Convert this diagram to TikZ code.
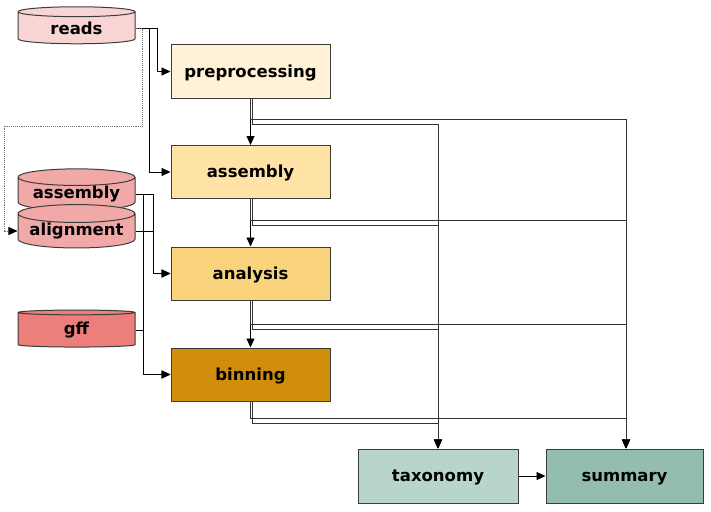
\documentclass[tikz,border=0pt]{standalone}
\usepackage{fontspec}
\setmainfont{DejaVu Sans}
\usetikzlibrary{shapes.geometric,arrows.meta}

\definecolor{readsfill}{HTML}{F8D4D4}
\definecolor{dbfill}{HTML}{F1A9A7}
\definecolor{gfffill}{HTML}{EC7F79}
\definecolor{prefill}{HTML}{FFF2D6}
\definecolor{asmfill}{HTML}{FFE3A6}
\definecolor{anafill}{HTML}{FAD47D}
\definecolor{binfill}{HTML}{D18E0A}
\definecolor{taxfill}{HTML}{B7D5CB}
\definecolor{sumfill}{HTML}{93BDB1}
\definecolor{border}{HTML}{3C3C3C}

\tikzset{stagebox/.style={draw=border,line width=1pt,minimum width=159pt,minimum height=53pt,
           inner sep=0pt,text height=14pt,text depth=3pt,font=\fontsize{16.5}{19}\selectfont\bfseries},
         dbcyl/.style={cylinder,shape border rotate=90,aspect=0.19,draw=border,line width=1pt,
           minimum width=117pt,minimum height=37pt,inner sep=0pt,font=\fontsize{16.5}{19}\selectfont\bfseries},
         flow/.style={line width=0.9pt,-{Triangle[length=9pt,width=8pt,color=black]}},
         feed/.style={flow,draw=black!80}}

\begin{document}
\begin{tikzpicture}[x=1pt,y=-1pt]
                  \useasboundingbox (0,0) rectangle (711,511);
                  % inputs
                  \node[dbcyl,fill=readsfill] (reads) at (76.5,28) {reads};
                  \node[dbcyl,fill=dbfill] (asmdb) at (76.5,194) {assembly};
                  \node[dbcyl,fill=dbfill] (alndb) at (76.5,231) {alignment};
                  \node[dbcyl,fill=gfffill] (gff) at (76.5,330) {gff};
                  % stages
                  \node[stagebox,fill=prefill] (pre) at (250.5,71.5) {preprocessing};
                  \node[stagebox,fill=asmfill] (asm) at (250.5,172) {assembly};
                  \node[stagebox,fill=anafill] (ana) at (250.5,273.5) {analysis};
                  \node[stagebox,fill=binfill] (bin) at (250.5,374.5) {binning};
                  \node[stagebox,fill=taxfill,minimum width=160pt,minimum height=54pt] (tax) at (438,476) {taxonomy};
                  \node[stagebox,fill=sumfill,minimum width=157pt,minimum height=54pt] (sum) at (624.5,476) {summary};
                  % inputs to stages
                  \draw[flow] (reads.east) -- ++(22,0) |- (pre.west);
                  \draw[flow] (reads.east) -- ++(14,0) |- (asm.west);
                  \draw[flow,draw=black!55,densely dotted,line width=0.7pt] (reads.east) -- ++(7,0) |- (4,126) |- (alndb.west);
                  \draw[flow] (asmdb.east) -- ++(18,0) |- (ana.west);
                  \draw[flow] (alndb.east) -- ++(18,0) |- (ana.west);
                  \draw[flow] (asmdb.east) -- ++(8,0) |- (bin.west);
                  \draw[flow] (gff.east) -- ++(8,0) |- (bin.west);
                  % stage chain
                  \draw[flow] (pre) -- (asm);
                  \draw[flow] (asm) -- (ana);
                  \draw[flow] (ana) -- (bin);
                  \draw[flow] (tax) -- (sum);
                  % stages to reports
                  \draw[feed] (pre.south) -- ++(0,21) -| ([xshift=1.5pt]sum.north);
                  \draw[feed] ([xshift=1.5pt]pre.south) -- ++(0,26) -| (tax.north);
                  \draw[feed] (asm.south) -- ++(0,21) -| ([xshift=1.5pt]sum.north);
                  \draw[feed] ([xshift=1.5pt]asm.south) -- ++(0,26) -| (tax.north);
                  \draw[feed] (ana.south) -- ++(0,24) -| ([xshift=1.5pt]sum.north);
                  \draw[feed] ([xshift=1.5pt]ana.south) -- ++(0,29) -| (tax.north);
                  \draw[feed] (bin.south) -- ++(0,17) -| ([xshift=1.5pt]sum.north);
                  \draw[feed] ([xshift=1.5pt]bin.south) -- ++(0,22) -| (tax.north);
              \end{tikzpicture}
\end{document}
